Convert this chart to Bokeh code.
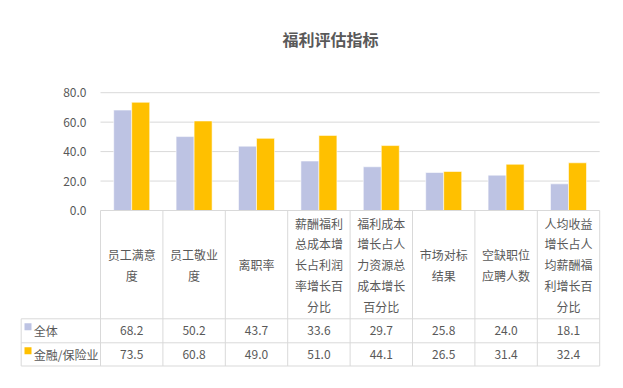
import numpy as np
from bokeh.plotting import figure
from bokeh.models import Range1d
from bokeh.core.properties import value
from bokeh.embed import file_html
from bokeh.resources import INLINE

# ---------------- data ----------------
title_text = "福利评估指标"
categories = [
    "员工满意\n度",
    "员工敬业\n度",
    "离职率",
    "薪酬福利\n总成本增\n长占利润\n率增长百\n分比",
    "福利成本\n增长占人\n力资源总\n成本增长\n百分比",
    "市场对标\n结果",
    "空缺职位\n应聘人数",
    "人均收益\n增长占人\n均薪酬福\n利增长百\n分比",
]
series_names = ["全体", "金融/保险业"]
values_all = [68.2, 50.2, 43.7, 33.6, 29.7, 25.8, 24.0, 18.1]
values_fin = [73.5, 60.8, 49.0, 51.0, 44.1, 26.5, 31.4, 32.4]
y_ticks = [0.0, 20.0, 40.0, 60.0, 80.0]

# ---------------- styles ----------------
C_ALL = "#BDC3E3"
C_FIN = "#FFC000"
GRID = "#D9D9D9"
TXT = "#595959"
FONT = value("Noto Sans CJK SC")

W, H = 623, 388
OX, OY = 0, 0             # page position of the figure
# pixel layout (page coords) -> data coords
X0, XS = 100.0, 62.4      # px of x=0, px per category
Y0, YS = 210.0, 1.4725    # px of y=0, px per unit


def dx(px):
    return (px - X0) / XS


def dy(py):
    return (Y0 - py) / YS


p = figure(width=W, height=H, output_backend="svg", toolbar_location=None,
           x_range=Range1d(dx(OX), dx(OX + W)), y_range=Range1d(dy(OY + H), dy(OY)),
           min_border=0, outline_line_color=None)
p.xaxis.visible = False
p.yaxis.visible = False
p.grid.visible = False
p.background_fill_color = "white"

n = len(categories)
idx = np.arange(n) + 0.5
bw = 0.2885

# gridlines (above 0)
gt = [t for t in y_ticks if t > 0]
p.segment(x0=[0] * len(gt), x1=[n] * len(gt), y0=gt, y1=gt, line_color=GRID, line_width=1)

# bars
p.vbar(x=idx - bw / 2, top=values_all, bottom=0, width=bw, fill_color=C_ALL,
       line_color="white", line_width=0.8, line_alpha=0.7)
p.vbar(x=idx + bw / 2, top=values_fin, bottom=0, width=bw, fill_color=C_FIN,
       line_color="white", line_width=0.8, line_alpha=0.7)

# tick labels
p.text(x=[dx(86)] * len(y_ticks), y=y_ticks, text=[f"{t:.1f}" for t in y_ticks],
       text_align="right", text_baseline="middle", text_font=FONT,
       text_font_size="12px", text_color=TXT)

# title
p.text(x=[dx(330)], y=[dy(38)], text=[title_text], text_align="center",
       text_baseline="middle", text_font=FONT, text_font_size="16px",
       text_font_style="bold", text_color=TXT)

# ---------------- data table ----------------
y_head = dy(318.3)
y_r1 = dy(342.3)
y_r2 = dy(365.5)
x_leg = dx(20.7)

# horizontal lines
p.segment(x0=[0], x1=[n], y0=[0], y1=[0], line_color=GRID, line_width=1)
p.segment(x0=[x_leg] * 3, x1=[n] * 3, y0=[y_head, y_r1, y_r2], y1=[y_head, y_r1, y_r2],
          line_color=GRID, line_width=1)
# vertical lines
p.segment(x0=list(range(n + 1)), x1=list(range(n + 1)), y0=[0] * (n + 1),
          y1=[y_r2] * (n + 1), line_color=GRID, line_width=1)
p.segment(x0=[x_leg], x1=[x_leg], y0=[y_head], y1=[y_r2], line_color=GRID, line_width=1)

# header text (wrapped lines)
hx, hy, ht = [], [], []
hc = (Y0 + 318.3) / 2
for i, lab in enumerate(categories):
    lines = lab.split("\n")
    m = len(lines)
    for k, ln in enumerate(lines):
        hx.append(i + 0.5)
        hy.append(dy(hc + (k - (m - 1) / 2) * 20.8))
        ht.append(ln)
p.text(x=hx, y=hy, text=ht, text_align="center", text_baseline="middle",
       text_font=FONT, text_font_size="12px", text_color=TXT)

# values
r1c = dy((318.3 + 342.3) / 2)
r2c = dy((342.3 + 365.5) / 2)
p.text(x=idx, y=[r1c] * n, text=[f"{v:.1f}" for v in values_all], text_align="center",
       text_baseline="middle", text_font=FONT, text_font_size="12px", text_color=TXT)
p.text(x=idx, y=[r2c] * n, text=[f"{v:.1f}" for v in values_fin], text_align="center",
       text_baseline="middle", text_font=FONT, text_font_size="12px", text_color=TXT)

# legend keys + names
p.rect(x=[dx(27.5)] * 2, y=[dy(326.3), dy(350.2)], width=7, height=7,
       width_units="screen", height_units="screen", fill_color=[C_ALL, C_FIN], line_color=None)
p.text(x=[dx(33.3)] * 2, y=[r1c, r2c], text=series_names, text_align="left",
       text_baseline="middle", text_font=FONT, text_font_size="12px", text_color=TXT)

open("out.html", "w").write(file_html(p, INLINE))
